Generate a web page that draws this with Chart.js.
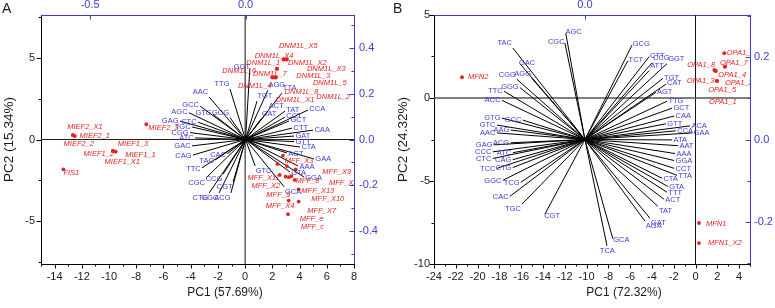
<!DOCTYPE html>
<html>
<head>
<meta charset="utf-8">
<script src="https://cdn.jsdelivr.net/npm/chart.js@4.4.1/dist/chart.umd.min.js"></script>
<style>
  body { margin: 0; background: #fff; width: 775px; height: 308px; overflow: hidden; position: relative; }
  canvas { position: absolute; top: 0; }
  #chartA { left: 0; }
  #chartB { left: 388px; }
</style>
</head>
<body>
<canvas id="chartA" width="388" height="308"></canvas>
<canvas id="chartB" width="387" height="308"></canvas>
<script>
// ===== Panel A: codon loadings (top/right axes) =====
const codonsA = ['AAC','GCC','AGC','GTG','GCG','GAG','CTC','TGC','CGG','ATC','GAC','CAG','CAC','TAC','TTC','CCG','CGC','CGT','CTG','GGC','ACG',
  'TTG','GGT','TGT','AGG','TTA','ACT','CAT','TAT','CCT','GCT','CTT','GAT','CCA','CAA','GTT','CTA','AGT','GAA','AAA','GTA','GGA','GCA','GTC'];
const loadA1 = [-0.117,-0.146,-0.182,-0.105,-0.050,-0.211,-0.153,-0.172,-0.178,-0.162,-0.172,-0.169,-0.059,-0.098,-0.140,-0.072,-0.127,-0.040,-0.117,-0.085,-0.047,
  -0.050,0.014,0.037,0.072,0.117,0.072,0.050,0.127,0.127,0.140,0.150,0.156,0.201,0.217,0.156,0.175,0.133,0.220,0.169,0.143,0.188,0.124,0.031];
const loadA2 = [0.186,0.146,0.117,0.111,0.096,0.081,0.076,0.055,0.030,0.007,-0.028,-0.068,-0.063,-0.090,-0.124,-0.151,-0.168,-0.186,-0.234,-0.234,-0.234,
  0.221,0.312,0.168,0.216,0.203,0.124,0.090,0.124,0.098,0.081,0.050,0.015,0.129,0.041,-0.009,-0.033,-0.059,-0.085,-0.116,-0.142,-0.164,-0.207,-0.116];

// ===== Panel A: gene scores (bottom/left axes) =====
const genesA = ['FIS1','MIEF2_X1','MIEF2_1','MIEF2_2','MIEF2_3','MIEF1_3','MIEF1_2','MIEF1_1','MIEF1_X1',
  'DNM1L_X5','DNM1L_X4','DNM1L_1','DNM1L_X2','DNM1L_X3','DNM1L_6','DNM1L_7','DNM1L_3','DNM1L_5','DNM1L_4','DNM1L_8','DNM1L_2','DNM1L_X1',
  'MFF_X3','MFF_X9','MFF_X11','MFF_X2','MFF_8','MFF_X8','MFF_X13','MFF_9','MFF_X10','MFF_X4','MFF_X7','MFF_e','MFF_c'];
const scoreA1 = [-13.35,-12.66,-12.51,-12.66,-7.26,-9.72,-9.72,-9.52,-9.52,
  2.83,2.83,2.34,3.05,3.05,2.00,2.24,3.05,2.83,2.00,2.24,2.34,2.24,
  2.78,3.71,2.54,2.98,3.07,3.40,3.93,3.22,3.93,3.20,3.64,2.37,3.15];
const scoreA2 = [-1.82,0.27,0.21,0.27,0.93,-0.70,-0.70,-0.74,-0.74,
  4.89,4.89,4.32,4.89,4.89,3.79,3.79,4.89,4.89,3.79,3.79,4.32,3.79,
  -0.99,-1.82,-2.16,-2.27,-1.62,-2.23,-3.04,-2.30,-3.79,-3.73,-2.47,-1.49,-4.56];

// ===== Panel B: codon loadings =====
const codonsB = ['AGC','CGC','GAC','TAC','CGG','AGG','TTC','GGG','ACC','GTG','GCC','GTC','AAC','AAG','GAG','ACG','CCC','ATC','CTC','CAG',
  'TCC','CTG','GGC','TCG','CAC','TGC','CGT','TCA','GCA','AGA','GAT','TAT','ACT','TTT','GTA','CTA','TTA','CCT','GGA','AAA',
  'AAT','ATA','CCA','GAA','ACA','GTT','CAA','GCT','TTG','AGT','CAT','TGT','ATT','GGT','CCG','CTT','TCT','GCG'];
const loadB1 = [-0.046,-0.048,-0.156,-0.173,-0.163,-0.127,-0.194,-0.156,-0.199,-0.199,-0.149,-0.211,-0.211,-0.178,-0.218,-0.178,-0.221,-0.173,-0.221,-0.173,
  -0.211,-0.173,-0.197,-0.154,-0.180,-0.151,-0.096,0.053,0.067,0.144,0.156,0.175,0.190,0.197,0.199,0.185,0.221,0.214,0.214,0.216,
  0.223,0.209,0.218,0.257,0.252,0.194,0.214,0.209,0.197,0.170,0.194,0.187,0.154,0.197,0.161,0.154,0.103,0.113];
const loadB2 = [0.258,0.234,0.184,0.222,0.146,0.148,0.117,0.126,0.095,0.052,0.047,0.035,0.016,0.023,-0.013,-0.008,-0.030,-0.032,-0.046,-0.049,
  -0.070,-0.068,-0.099,-0.104,-0.138,-0.157,-0.181,-0.258,-0.241,-0.198,-0.191,-0.162,-0.145,-0.128,-0.114,-0.094,-0.087,-0.070,-0.051,-0.034,
  -0.015,-0.001,0.021,0.016,0.033,0.038,0.057,0.076,0.093,0.114,0.134,0.148,0.167,0.184,0.186,0.201,0.191,0.229];

// ===== Panel B: gene scores =====
const genesB = ['MFN2','OPA1_6','OPA1_7','OPA1_8','OPA1_4','OPA1_3','OPA1_2','OPA1_5','OPA1_1','MFN1','MFN1_X2'];
const scoreB1 = [-21.43,2.64,2.70,1.72,1.85,1.97,2.70,1.97,1.85,0.32,0.32];
const scoreB2 = [1.25,2.70,1.89,1.69,1.63,1.03,1.89,1.03,1.63,-7.53,-8.74];

// --- styles ---
const BLUE = '#3b3bd6';
const RED = '#e42320';
const INK = '#1a1a1a';
const FONT = '"Liberation Sans", Arial, sans-serif';

// where each red label sits relative to its point (px, start of text / middle)
const nudgeA = {
  FIS1:[0,4], MIEF2_X1:[-5.6,-7.7], MIEF2_1:[4.7,-0.3], MIEF2_2:[-9.3,9.3], MIEF2_3:[2,4],
  MIEF1_3:[5,-6.7], MIEF1_2:[-29.3,3.3], MIEF1_1:[9.7,3.3], MIEF1_X1:[-11,10.6],
  DNM1L_X5:[-4.7,-13.3], DNM1L_X4:[-29,-3.3], DNM1L_1:[-30.6,-6], DNM1L_X2:[1.3,3.4], DNM1L_X3:[20.3,10],
  DNM1L_6:[-50,-6.6], DNM1L_7:[-22.7,-3.3], DNM1L_3:[9.7,16.7], DNM1L_5:[29.3,23.4], DNM1L_4:[-34.4,8.4],
  DNM1L_8:[9,14.4], DNM1L_2:[39.4,28], DNM1L_X1:[0,22.7],
  MFF_X3:[1.7,5.3], MFF_X9:[26.7,3], MFF_X11:[-32.3,3.3], MFF_X2:[-34.3,9.3], MFF_8:[8.7,15], MFF_X8:[37.6,7.3],
  MFF_X13:[2.7,1.7], MFF_9:[-22.6,17.7], MFF_X10:[12.7,-2.7], MFF_X4:[-23,5], MFF_X7:[12.7,31], MFF_e:[22.3,55.3], MFF_c:[12.7,12.4]
};
const nudgeB = {
  MFN2:[6,0], OPA1_6:[2.4,0], OPA1_7:[-5,-4], OPA1_8:[-27,-5], OPA1_4:[2.6,4], OPA1_3:[-30.3,0],
  OPA1_2:[0,16], OPA1_5:[-8.7,9], OPA1_1:[-6.7,30.7], MFN1:[7,0.7], MFN1_X2:[9,0]
};
// forced side for a few blue labels ('l' = text starts at tip, 'r' = text ends at tip)
const sideA = { GGT:'r' };
const sideB = { AGC:'l', CGC:'r', GAC:'l', CGT:'l', GCG:'l', TCT:'l', CTT:'l', GCA:'l' };

const panels = {
  chartA: { codons: codonsA, l1: loadA1, l2: loadA2, genes: genesA, s1: scoreA1, s2: scoreA2, nudge: nudgeA, side: sideA,
            letter: 'A', letterX: 2, xTitle: 'PC1 (57.69%)', xTitleX: 225, yTitle: 'PC2 (15.34%)', yTitleX: 9,
            minor: { x: 1, y: 2.5, x2: 0.5, y2: 0.1 } },
  chartB: { codons: codonsB, l1: loadB1, l2: loadB2, genes: genesB, s1: scoreB1, s2: scoreB2, nudge: nudgeB, side: sideB,
            letter: 'B', letterX: 5, xTitle: 'PC1 (72.32%)', xTitleX: 236, yTitle: 'PC2 (24.32%)', yTitleX: 15,
            minor: { x: 1, y: 2.5, x2: 0.5, y2: 0.1 } }
};

// tick marks: black axes point out, blue axes point in
const tickMarks = {
  id: 'tickMarks',
  afterDraw(chart) {
    const p = panels[chart.canvas.id];
    const ctx = chart.ctx;
    const a = chart.chartArea;
    ctx.save();
    ctx.lineWidth = 1;
    Object.keys(p.minor).forEach(id => {
      const s = chart.scales[id];
      const step = p.minor[id];
      const majors = s.ticks.map(t => t.value);
      ctx.strokeStyle = id.endsWith('2') ? BLUE : '#000';
      ctx.beginPath();
      for (let k = Math.ceil(s.min / step - 1e-6); k * step <= s.max + 1e-9; k++) {
        const v = k * step;
        const major = majors.some(t => Math.abs(t - v) < 1e-6);
        const len = major ? 4.5 : 2.5;
        const px = Math.round(s.getPixelForValue(v)) + 0.5;
        if (id === 'x') { ctx.moveTo(px, a.bottom); ctx.lineTo(px, a.bottom + len); }
        if (id === 'x2') { ctx.moveTo(px, a.top); ctx.lineTo(px, a.top + len); }
        if (id === 'y') { ctx.moveTo(a.left, px); ctx.lineTo(a.left - len, px); }
        if (id === 'y2') { ctx.moveTo(a.right, px); ctx.lineTo(a.right - len, px); }
      }
      ctx.stroke();
    });
    ctx.restore();
  }
};

// codon names at vector tips, gene names next to points, titles
const biplotText = {
  id: 'biplotText',
  afterDatasetsDraw(chart) {
    const p = panels[chart.canvas.id];
    const { ctx, chartArea: a, scales } = chart;
    const ox = scales.x2.getPixelForValue(0), oy = scales.y2.getPixelForValue(0);
    ctx.save();
    ctx.beginPath();
    ctx.rect(a.left, a.top, a.right - a.left, a.bottom - a.top);
    ctx.clip();

    ctx.font = '7.5px ' + FONT;
    ctx.fillStyle = BLUE;
    p.codons.forEach((c, i) => {
      const tx = scales.x2.getPixelForValue(p.l1[i]);
      const ty = scales.y2.getPixelForValue(p.l2[i]);
      const len = Math.hypot(tx - ox, ty - oy) || 1;
      const cs = (tx - ox) / len, sn = (oy - ty) / len;
      let align = cs > 0.22 ? 'left' : cs < -0.22 ? 'right' : 'center';
      let base = sn > 0.65 ? 'bottom' : sn < -0.65 ? 'top' : 'middle';
      if (p.side[c]) { align = p.side[c] === 'l' ? 'left' : 'right'; base = 'middle'; }
      ctx.textAlign = align;
      ctx.textBaseline = base;
      ctx.fillText(c, tx + cs * 1.5, ty - sn * 1.5);
    });

    ctx.font = 'italic 7.5px ' + FONT;
    ctx.fillStyle = RED;
    ctx.textAlign = 'left';
    ctx.textBaseline = 'middle';
    p.genes.forEach((g, i) => {
      const px = scales.x.getPixelForValue(p.s1[i]);
      const py = scales.y.getPixelForValue(p.s2[i]);
      const n = p.nudge[g] || [4, 0];
      ctx.fillText(g, px + n[0], py + n[1]);
    });
    ctx.restore();
  },
  afterDraw(chart) {
    const p = panels[chart.canvas.id];
    const ctx = chart.ctx;
    ctx.save();
    ctx.fillStyle = INK;
    ctx.textAlign = 'center';
    ctx.textBaseline = 'middle';
    ctx.font = '12px ' + FONT;
    ctx.fillText(p.xTitle, p.xTitleX, 293);
    ctx.translate(p.yTitleX, 139.5);
    ctx.rotate(-Math.PI / 2);
    ctx.font = '13.5px ' + FONT;
    ctx.fillText(p.yTitle, 0, 0);
    ctx.restore();
    ctx.save();
    ctx.fillStyle = INK;
    ctx.font = '14px ' + FONT;
    ctx.textAlign = 'left';
    ctx.textBaseline = 'alphabetic';
    ctx.fillText(p.letter, p.letterX, 12.5);
    ctx.restore();
  }
};

function vectors(l1, l2) {
  const d = [];
  l1.forEach((v, i) => d.push({ x: 0, y: 0 }, { x: v, y: l2[i] }, { x: null, y: null }));
  return d;
}
function points(s1, s2) {
  return s1.map((v, i) => ({ x: v, y: s2[i] }));
}

function axis(pos, min, max, step, blue, size, pad, decimals) {
  return {
    type: 'linear', position: pos, min: min, max: max,
    grid: { display: false, drawTicks: false },
    border: { display: true, color: blue ? BLUE : '#000', width: 1 },
    ticks: {
      stepSize: step, includeBounds: false, autoSkip: false, maxRotation: 0, padding: pad,
      color: blue ? BLUE : INK, font: { family: FONT, size: 11 },
      callback: v => decimals ? v.toFixed(1) : String(v)
    },
    afterFit: s => { if (pos === 'top' || pos === 'bottom') s.height = size; else s.width = size; }
  };
}

function makeChart(id, cfg) {
  const p = panels[id];
  new Chart(document.getElementById(id), {
    type: 'scatter',
    data: {
      datasets: [
        { data: points(p.s1, p.s2), xAxisID: 'x', yAxisID: 'y', pointRadius: 1.9, pointBorderWidth: 0,
          pointBackgroundColor: RED, showLine: false },
        { data: vectors(p.l1, p.l2), xAxisID: 'x2', yAxisID: 'y2', showLine: true, spanGaps: false,
          borderColor: '#000', borderWidth: 1, pointRadius: 0 },
        { data: [{ x: cfg.x[0], y: 0 }, { x: cfg.x[1], y: 0 }], xAxisID: 'x', yAxisID: 'y', showLine: true,
          borderColor: cfg.hColor, borderWidth: cfg.hWidth, pointRadius: 0 },
        { data: [{ x: 0, y: cfg.y[0] }, { x: 0, y: cfg.y[1] }], xAxisID: 'x', yAxisID: 'y', showLine: true,
          borderColor: '#111', borderWidth: 1, pointRadius: 0 }
      ]
    },
    options: {
      responsive: false,
      animation: false,
      devicePixelRatio: 1,
      layout: { padding: 0 },
      plugins: { legend: { display: false }, tooltip: { enabled: false } },
      scales: {
        x: axis('bottom', cfg.x[0], cfg.x[1], 2, false, 44, 6, false),
        y: axis('left', cfg.y[0], cfg.y[1], 5, false, cfg.leftW, cfg.leftPad, false),
        x2: axis('top', cfg.x2[0], cfg.x2[1], 0.5, true, 15, 3, true),
        y2: axis('right', cfg.y2[0], cfg.y2[1], 0.2, true, cfg.rightW, cfg.rightPad, true)
      }
    },
    plugins: [tickMarks, biplotText]
  });
}

makeChart('chartA', { x: [-15, 8], y: [-7.6, 7.6], x2: [-0.658, 0.349], y2: [-0.545, 0.545],
  leftW: 41, leftPad: 6, rightW: 34, rightPad: 5, hColor: '#222', hWidth: 1 });
makeChart('chartB', { x: [-24, 5], y: [-10, 5], x2: [-0.362, 0.396], y2: [-0.302, 0.302],
  leftW: 46, leftPad: 4, rightW: 25, rightPad: 4, hColor: '#555', hWidth: 1.5 });
</script>
</body>
</html>
